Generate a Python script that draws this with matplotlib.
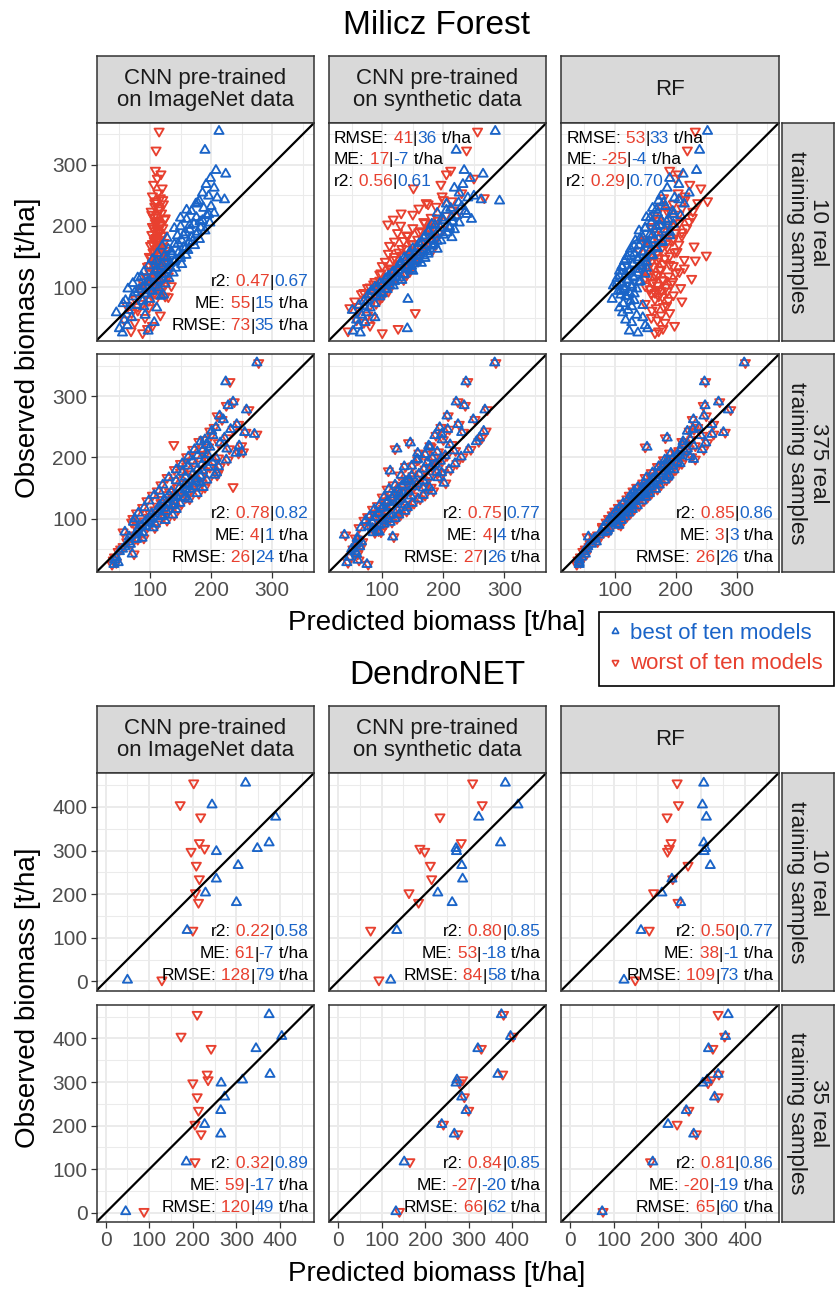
import matplotlib
matplotlib.use('Agg')
import matplotlib.pyplot as plt
from matplotlib.lines import Line2D

plt.rcParams['font.family'] = ['Liberation Sans', 'DejaVu Sans']

# ---------------- data ----------------
col_titles = ["CNN pre-trained\non ImageNet data", "CNN pre-trained\non synthetic data", "RF"]
milicz_rows = ["10 real\ntraining samples", "375 real\ntraining samples"]
dendro_rows = ["10 real\ntraining samples", "35 real\ntraining samples"]
legend_labels = ["best of ten models", "worst of ten models"]

# Milicz Forest: observed biomass (shared by all panels)
m_obs = [355, 324, 291, 285, 278, 268, 262, 254, 249, 246,
         241, 236, 232, 229, 224, 221, 217, 214, 211, 209,
         205, 203, 199, 197, 194, 192, 189, 186, 184, 181,
         178, 176, 173, 170, 168, 165, 162, 160, 157, 154,
         152, 150, 147, 144, 142, 139, 137, 134, 131, 128,
         126, 123, 120, 117, 114, 111, 108, 105, 102, 99,
         96, 93, 89, 87, 84, 80, 77, 73, 70, 66,
         62, 58, 54, 50, 46, 42, 37, 32, 28, 25,
         243, 238, 226, 219, 213, 207, 201, 196, 190, 185,
         180, 175, 171, 167, 163, 158, 155, 151, 148, 145,
         141, 138, 135, 132, 129, 125, 121, 118, 115, 112,
         109, 106, 103, 100, 97, 94, 91, 85, 78, 68]

m_in10_worst = [115, 110, 109, 118, 112, 106, 120, 113, 104, 117,
                110, 122, 108, 115, 102, 119, 111, 106, 124, 113,
                109, 117, 104, 121, 112, 108, 116, 103, 119, 110,
                114, 107, 123, 111, 101, 117, 109, 126, 105, 113,
                118, 99, 121, 110, 128, 104, 115, 96, 120, 108,
                131, 100, 117, 93, 124, 106, 88, 112, 135, 97,
                84, 118, 102, 92, 130, 76, 108, 88, 62, 98,
                80, 70, 117, 92, 58, 75, 104, 96, 69, 88,
                121, 108, 116, 103, 125, 111, 118, 106, 114, 122,
                109, 116, 104, 120, 112, 107, 125, 114, 102, 118,
                110, 128, 99, 115, 121, 106, 113, 130, 95, 118,
                104, 126, 90, 112, 120, 85, 108, 125, 98, 80]
m_in10_best = [213, 190, 208, 224, 199, 192, 205, 186, 196, 210,
               181, 175, 200, 188, 168, 205, 193, 176, 160, 186,
               198, 172, 150, 183, 165, 190, 158, 176, 145, 168,
               181, 152, 164, 140, 173, 155, 130, 162, 147, 136,
               159, 123, 150, 141, 110, 133, 152, 118, 142, 127,
               108, 138, 120, 86, 131, 112, 100, 125, 92, 114,
               82, 104, 95, 122, 72, 100, 88, 56, 78, 111,
               65, 45, 92, 70, 58, 107, 63, 50, 97, 55,
               222, 178, 160, 196, 150, 182, 165, 140, 178, 155,
               128, 170, 146, 120, 158, 135, 112, 150, 128, 104,
               140, 120, 98, 132, 112, 90, 124, 104, 80, 116,
               96, 72, 108, 88, 64, 100, 75, 118, 60, 90]
m_syn10_worst = [256, 238, 212, 205, 250, 196, 151, 230, 198, 267,
                 214, 175, 188, 160, 226, 131, 204, 180, 118, 192,
                 170, 109, 185, 150, 200, 164, 125, 176, 142, 190,
                 158, 135, 171, 148, 112, 163, 140, 182, 127, 152,
                 133, 120, 160, 144, 105, 138, 126, 150, 112, 130,
                 118, 98, 140, 108, 122, 96, 115, 86, 104, 76,
                 95, 110, 66, 88, 100, 72, 55, 90, 80, 47,
                 62, 154, 76, 84, 58, 70, 80, 126, 44, 100,
                 200, 172, 215, 150, 190, 168, 130, 178, 160, 140,
                 186, 120, 150, 172, 132, 165, 110, 142, 158, 118,
                 148, 128, 100, 138, 115, 145, 96, 124, 108, 135,
                 88, 115, 98, 80, 108, 90, 70, 82, 95, 60]
m_syn10_best = [285, 221, 234, 265, 244, 232, 218, 226, 250, 240,
                292, 205, 230, 212, 236, 190, 222, 214, 246, 200,
                226, 181, 210, 195, 218, 176, 206, 188, 170, 214,
                180, 196, 165, 186, 175, 158, 190, 168, 145, 175,
                160, 150, 170, 138, 156, 164, 130, 148, 140, 126,
                150, 116, 135, 121, 106, 132, 112, 100, 118, 92,
                108, 84, 100, 77, 96, 142, 70, 88, 62, 80,
                51, 74, 66, 88, 58, 72, 60, 141, 52, 64,
                262, 225, 205, 238, 198, 215, 186, 210, 175, 200,
                168, 190, 160, 182, 150, 175, 144, 168, 136, 160,
                130, 152, 142, 125, 148, 118, 136, 110, 128, 105,
                120, 96, 112, 88, 104, 82, 98, 90, 76, 70]
m_rf10_worst = [232, 219, 190, 204, 200, 223, 241, 204, 215, 180,
                252, 196, 176, 210, 228, 188, 165, 227, 198, 172,
                206, 185, 160, 218, 190, 175, 200, 166, 210, 182,
                150, 195, 172, 205, 160, 186, 176, 140, 198, 168,
                250, 158, 182, 232, 170, 150, 190, 163, 214, 176,
                145, 200, 170, 156, 226, 180, 162, 192, 150, 208,
                172, 186, 160, 196, 178, 166, 210, 150, 185, 168,
                161, 190, 176, 160, 170, 182, 198, 179, 172, 166,
                215, 236, 190, 205, 170, 222, 188, 160, 210, 178,
                196, 150, 184, 230, 166, 202, 156, 190, 172, 214,
                160, 180, 196, 152, 174, 206, 165, 188, 150, 178,
                195, 162, 170, 184, 158, 176, 166, 172, 188, 180]
m_rf10_best = [252, 239, 234, 212, 190, 205, 186, 222, 176, 198,
               172, 214, 183, 162, 195, 170, 208, 152, 188, 176,
               160, 196, 168, 150, 182, 140, 172, 158, 190, 146,
               165, 134, 178, 152, 140, 168, 126, 158, 146, 132,
               162, 120, 150, 138, 116, 144, 130, 112, 152, 125,
               108, 138, 118, 130, 104, 122, 140, 112, 98, 128,
               116, 106, 132, 110, 120, 96, 126, 114, 146, 108,
               122, 113, 136, 146, 118, 128, 150, 154, 124, 138,
               205, 180, 168, 196, 158, 185, 174, 150, 190, 162,
               142, 178, 155, 132, 170, 146, 125, 160, 138, 118,
               152, 130, 145, 112, 138, 124, 150, 108, 132, 120,
               142, 104, 128, 116, 136, 110, 124, 118, 132, 128]
m_in375_worst = [278, 231, 238, 225, 262, 210, 218, 245, 205, 236,
                 257, 200, 226, 188, 212, 139, 196, 230, 184, 253,
                 190, 176, 212, 194, 168, 205, 182, 160, 198, 175,
                 190, 150, 168, 185, 160, 172, 140, 178, 155, 166,
                 236, 145, 160, 132, 152, 128, 146, 138, 120, 142,
                 118, 132, 112, 126, 108, 118, 100, 122, 96, 106,
                 90, 102, 84, 96, 78, 82, 90, 74, 68, 80,
                 62, 70, 56, 52, 48, 74, 42, 40, 45, 38,
                 198, 275, 180, 250, 170, 245, 160, 228, 150, 215,
                 140, 212, 210, 128, 196, 185, 118, 190, 168, 112,
                 180, 104, 160, 165, 95, 152, 140, 88, 146, 130,
                 78, 140, 122, 72, 128, 70, 112, 108, 56, 90]
m_in375_best = [275, 224, 236, 228, 258, 214, 220, 242, 208, 232,
                255, 203, 222, 190, 215, 192, 198, 226, 186, 250,
                194, 178, 208, 190, 170, 202, 185, 162, 195, 178,
                186, 153, 170, 182, 158, 175, 143, 175, 158, 163,
                172, 148, 158, 135, 150, 131, 143, 140, 123, 139,
                121, 129, 115, 124, 111, 115, 103, 119, 99, 103,
                93, 99, 87, 93, 81, 79, 88, 77, 66, 78,
                65, 68, 59, 55, 50, 71, 45, 42, 48, 41,
                201, 271, 183, 246, 173, 241, 163, 225, 153, 212,
                143, 209, 206, 131, 193, 182, 121, 187, 165, 115,
                177, 107, 157, 162, 98, 149, 137, 91, 143, 127,
                81, 137, 119, 75, 125, 73, 109, 105, 59, 87]
m_syn375_worst = [286, 240, 224, 236, 272, 208, 252, 226, 196, 210,
                  233, 188, 263, 200, 143, 214, 180, 121, 220, 192,
                  172, 206, 185, 160, 198, 176, 190, 150, 182, 170,
                  110, 192, 162, 150, 178, 146, 170, 140, 160, 134,
                  152, 170, 128, 146, 136, 122, 150, 118, 132, 126,
                  110, 140, 116, 102, 128, 108, 96, 116, 90, 112,
                  104, 86, 98, 80, 86, 94, 88, 40, 119, 62,
                  68, 59, 66, 52, 58, 60, 48, 62, 44, 77,
                  270, 200, 258, 178, 245, 160, 232, 158, 222, 138,
                  212, 200, 128, 194, 140, 204, 118, 180, 108, 184,
                  125, 170, 100, 162, 106, 152, 92, 144, 84, 140,
                  90, 130, 76, 124, 70, 116, 106, 62, 98, 56]
m_syn375_best = [284, 237, 221, 234, 268, 206, 249, 224, 194, 207,
                 230, 186, 259, 198, 146, 211, 178, 124, 217, 190,
                 170, 203, 182, 158, 195, 174, 187, 148, 179, 168,
                 113, 189, 160, 148, 175, 144, 167, 138, 157, 132,
                 150, 167, 126, 143, 134, 120, 147, 116, 129, 124,
                 108, 137, 114, 100, 125, 106, 94, 113, 88, 110,
                 102, 84, 95, 78, 84, 92, 85, 38, 117, 60,
                 66, 57, 63, 50, 56, 58, 46, 60, 42, 75,
                 266, 197, 254, 176, 241, 158, 229, 156, 219, 136,
                 209, 197, 131, 191, 143, 201, 121, 177, 111, 181,
                 128, 167, 103, 159, 109, 149, 95, 141, 87, 137,
                 93, 127, 79, 121, 73, 113, 103, 65, 95, 59]
m_rf375_worst = [314, 249, 272, 245, 290, 250, 227, 262, 236, 230,
                 281, 244, 183, 226, 252, 214, 150, 222, 205, 218,
                 200, 210, 194, 232, 190, 205, 180, 198, 176, 192,
                 185, 170, 182, 165, 190, 160, 174, 156, 168, 150,
                 162, 145, 158, 152, 138, 150, 130, 144, 126, 136,
                 122, 131, 118, 126, 110, 120, 106, 112, 110, 98,
                 104, 92, 110, 80, 94, 86, 82, 72, 55, 68,
                 72, 60, 58, 52, 48, 54, 44, 40, 44, 38,
                 222, 262, 210, 232, 246, 190, 226, 180, 210, 170,
                 200, 160, 192, 150, 185, 146, 176, 136, 170, 130,
                 160, 124, 154, 120, 148, 112, 140, 106, 132, 100,
                 126, 96, 120, 90, 114, 86, 106, 80, 90, 66]
m_rf375_best = [312, 247, 270, 248, 286, 246, 229, 259, 238, 228,
                278, 241, 186, 224, 249, 211, 153, 219, 207, 215,
                203, 207, 196, 229, 188, 202, 182, 195, 178, 189,
                182, 172, 179, 167, 187, 162, 171, 158, 165, 152,
                159, 147, 155, 150, 140, 147, 132, 141, 128, 133,
                124, 128, 120, 123, 112, 117, 108, 110, 107, 100,
                102, 94, 107, 82, 91, 88, 80, 74, 57, 66,
                70, 62, 56, 54, 50, 52, 46, 42, 42, 42,
                219, 259, 212, 229, 243, 192, 223, 182, 207, 172,
                197, 162, 189, 152, 182, 148, 173, 138, 167, 132,
                157, 126, 151, 122, 145, 114, 137, 108, 129, 102,
                123, 98, 117, 92, 111, 88, 103, 82, 87, 68]

# DendroNET: observed biomass (shared by all panels)
d_obs = [455, 405, 377, 318, 305, 298, 266, 235, 203, 181, 117, 3]
d_in10_worst = [202, 171, 218, 215, 227, 196, 208, 215, 206, 213, 200, 129]
d_in10_best = [321, 244, 390, 375, 348, 254, 304, 254, 229, 300, 187, 50]
d_syn10_worst = [309, 331, 234, 283, 188, 199, 212, 215, 163, 185, 75, 94]
d_syn10_best = [384, 413, 323, 373, 271, 272, 284, 286, 229, 262, 135, 121]
d_rf10_worst = [245, 248, 222, 231, 227, 223, 270, 235, 191, 247, 181, 149]
d_rf10_best = [306, 303, 312, 306, 310, 307, 321, 233, 210, 253, 162, 123]
d_in35_worst = [210, 173, 242, 233, 235, 200, 210, 213, 205, 219, 205, 88]
d_in35_best = [375, 404, 345, 377, 314, 265, 273, 264, 227, 264, 185, 46]
d_syn35_worst = [380, 402, 329, 378, 286, 279, 290, 300, 242, 275, 165, 141]
d_syn35_best = [375, 396, 321, 367, 273, 271, 284, 294, 238, 267, 152, 133]
d_rf35_worst = [339, 354, 327, 341, 323, 316, 339, 272, 245, 289, 184, 75]
d_rf35_best = [362, 356, 317, 339, 314, 304, 331, 266, 224, 283, 189, 73]

# statistics text (worst, best): r2, ME, RMSE
m_r2 = [[("0.47", "0.67"), ("0.56", "0.61"), ("0.29", "0.70")],
        [("0.78", "0.82"), ("0.75", "0.77"), ("0.85", "0.86")]]
m_me = [[("55", "15"), ("17", "-7"), ("-25", "-4")],
        [("4", "1"), ("4", "4"), ("3", "3")]]
m_rmse = [[("73", "35"), ("41", "36"), ("53", "33")],
          [("26", "24"), ("27", "26"), ("26", "26")]]
m_corner = [["br", "tl", "tl"], ["br", "br", "br"]]

d_r2 = [[("0.22", "0.58"), ("0.80", "0.85"), ("0.50", "0.77")],
        [("0.32", "0.89"), ("0.84", "0.85"), ("0.81", "0.86")]]
d_me = [[("61", "-7"), ("53", "-18"), ("38", "-1")],
        [("59", "-17"), ("-27", "-20"), ("-20", "-19")]]
d_rmse = [[("128", "79"), ("84", "58"), ("109", "73")],
          [("120", "49"), ("66", "62"), ("65", "60")]]
d_corner = [["br", "br", "br"], ["br", "br", "br"]]

m_ticks = [100, 200, 300]
m_minor = [50, 150, 250, 350]
d_ticks = [0, 100, 200, 300, 400]
d_minor = [50, 150, 250, 350, 450]

# ---------------- style ----------------
BLUE = '#1A64C8'
RED = '#E8402F'
GRID = '#EBEBEB'
DARK = '#333333'
TICKC = '#4D4D4D'
W, H = 835, 1289

fig = plt.figure(figsize=(W / 100, H / 100), dpi=100)


def px_axes(x0, y0, x1, y1):
    return fig.add_axes([x0 / W, 1 - y1 / H, (x1 - x0) / W, (y1 - y0) / H])


def strip(x0, y0, x1, y1, text, rot=0):
    a = px_axes(x0, y0, x1, y1)
    a.set_facecolor('#D9D9D9')
    a.set_xticks([])
    a.set_yticks([])
    for s in a.spines.values():
        s.set_color(DARK)
        s.set_linewidth(1.1)
    a.text(0.5, 0.5, text, ha='center', va='center', rotation=rot,
           fontsize=16, color='#1A1A1A', linespacing=1.05,
           transform=a.transAxes)


def line_pieces(label, pair, unit):
    p = [(label + ":", 'black'), (" " + pair[0], RED), ("|", 'black'), (pair[1], BLUE)]
    if unit:
        p.append((" t/ha", 'black'))
    return p


def stats_text(ax, r2, me, rmse, corner):
    fs = 12.5
    k = 0.72
    if corner == 'br':
        lines = [line_pieces("r2", r2, False), line_pieces("ME", me, True),
                 line_pieces("RMSE", rmse, True)]
        bases = [54, 32, 10]
        for pieces, b in zip(lines, bases):
            prev = None
            for txt, col in reversed(pieces):
                if prev is None:
                    prev = ax.annotate(txt, xy=(1, 0), xycoords='axes fraction',
                                       xytext=(-6 * k, b * k), textcoords='offset points',
                                       ha='right', va='baseline', color=col,
                                       fontsize=fs, zorder=5)
                else:
                    prev = ax.annotate(txt, xy=(0, 0), xycoords=prev, ha='right',
                                       va='bottom', color=col, fontsize=fs, zorder=5)
    else:
        lines = [line_pieces("RMSE", rmse, True), line_pieces("ME", me, True),
                 line_pieces("r2", r2, False)]
        bases = [20, 41, 63]
        for pieces, b in zip(lines, bases):
            prev = None
            for txt, col in pieces:
                if prev is None:
                    prev = ax.annotate(txt, xy=(0, 1), xycoords='axes fraction',
                                       xytext=(5 * k, -b * k), textcoords='offset points',
                                       ha='left', va='baseline', color=col,
                                       fontsize=fs, zorder=5)
                else:
                    prev = ax.annotate(txt, xy=(1, 0), xycoords=prev, ha='left',
                                       va='bottom', color=col, fontsize=fs, zorder=5)


def panel(x0, y0, x1, y1, lim, ticks, minor, obs, worst, best, show_x, show_y):
    ax = px_axes(x0, y0, x1, y1)
    ax.set_xlim(lim)
    ax.set_ylim(lim)
    ax.set_xticks(ticks)
    ax.set_yticks(ticks)
    ax.set_xticks(minor, minor=True)
    ax.set_yticks(minor, minor=True)
    ax.grid(which='major', color=GRID, lw=1.4, zorder=0)
    ax.grid(which='minor', color=GRID, lw=0.75, zorder=0)
    ax.set_axisbelow(True)
    ax.tick_params(which='minor', length=0)
    ax.tick_params(which='major', length=4, width=0.9, color=DARK,
                   labelsize=15, labelcolor=TICKC, pad=2.5,
                   bottom=show_x, labelbottom=show_x, left=show_y, labelleft=show_y)
    for s in ax.spines.values():
        s.set_color(DARK)
        s.set_linewidth(1.1)
        s.set_zorder(6)
    ax.scatter(worst, obs, marker=(3, 0, 180), s=58, facecolors='none',
               edgecolors=RED, linewidths=1.35, zorder=2)
    ax.scatter(best, obs, marker=(3, 0, 0), s=58, facecolors='none',
               edgecolors=BLUE, linewidths=1.35, zorder=3)
    ax.plot(lim, lim, color='black', lw=1.6, zorder=4, solid_capstyle='butt')
    return ax


col_left = [96.5, 328.8, 561.2]
col_w = 217.5


def block(title, title_y, strip_top, row_tops, row_h, lim, ticks, minor, obs,
          series, r2, me, rmse, corner, row_labels, xlab_y):
    fig.text(437 / W, 1 - title_y / H, title, ha='center', va='center', fontsize=24)
    panel_top = row_tops[0]
    for c in range(3):
        strip(col_left[c], strip_top, col_left[c] + col_w, panel_top, col_titles[c])
    for r in range(2):
        yt = row_tops[r]
        for c in range(3):
            worst, best = series[r][c]
            ax = panel(col_left[c], yt, col_left[c] + col_w, yt + row_h, lim, ticks,
                       minor, obs, worst, best, show_x=(r == 1), show_y=(c == 0))
            stats_text(ax, r2[r][c], me[r][c], rmse[r][c], corner[r][c])
        strip(781.5, yt, 834, yt + row_h, row_labels[r], rot=270)
    ymid = (row_tops[0] + row_tops[1] + row_h) / 2
    fig.text(28 / W, 1 - ymid / H, "Observed biomass [t/ha]", rotation=90,
             ha='center', va='center', fontsize=20)
    fig.text(437 / W, 1 - xlab_y / H, "Predicted biomass [t/ha]", ha='center',
             va='center', fontsize=20)


m_series = [[(m_in10_worst, m_in10_best), (m_syn10_worst, m_syn10_best), (m_rf10_worst, m_rf10_best)],
            [(m_in375_worst, m_in375_best), (m_syn375_worst, m_syn375_best), (m_rf375_worst, m_rf375_best)]]
d_series = [[(d_in10_worst, d_in10_best), (d_syn10_worst, d_syn10_best), (d_rf10_worst, d_rf10_best)],
            [(d_in35_worst, d_in35_best), (d_syn35_worst, d_syn35_best), (d_rf35_worst, d_rf35_best)]]

block("Milicz Forest", 25, 55.5, [123, 354.5], 217.5, (12.5, 368.5), m_ticks, m_minor,
      m_obs, m_series, m_r2, m_me, m_rmse, m_corner, milicz_rows, 623)
block("DendroNET", 676, 705.5, [773, 1004.5], 217.5, (-21, 478), d_ticks, d_minor,
      d_obs, d_series, d_r2, d_me, d_rmse, d_corner, dendro_rows, 1274)

handles = [Line2D([], [], marker=(3, 0, 0), ls='none', mec=BLUE, mfc='none', ms=5.5, mew=1.2),
           Line2D([], [], marker=(3, 0, 180), ls='none', mec=RED, mfc='none', ms=5.5, mew=1.2)]
leg = fig.legend(handles, legend_labels, loc='upper right',
                 bbox_to_anchor=(833.5 / W, 1 - 612 / H), bbox_transform=fig.transFigure,
                 frameon=True, fancybox=False, edgecolor='black', framealpha=1,
                 fontsize=16, labelcolor=[BLUE, RED], handlelength=0.45,
                 handletextpad=0.45, borderpad=0.5, labelspacing=0.42,
                 borderaxespad=0)
leg.get_frame().set_linewidth(1.2)

fig.savefig('out.png', dpi=100)
